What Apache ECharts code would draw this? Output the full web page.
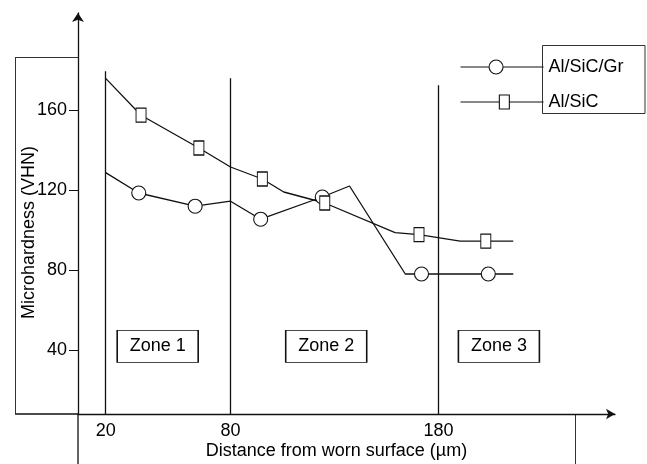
<!DOCTYPE html>
<html>
<head>
<meta charset="utf-8">
<script src="https://cdn.jsdelivr.net/npm/echarts@6/dist/echarts.min.js"></script>
<style>html,body{margin:0;padding:0;background:#fff}#c{width:647px;height:464px}</style>
</head>
<body>
<div id="c"></div>
<script>
// ---- data ----
const seriesNames = ['Al/SiC/Gr', 'Al/SiC'];

// Al/SiC/Gr: distance (µm), microhardness (VHN), measured point (marker) or line vertex
const distGr = [20, 35.9, 63.0, 80, 94.5, 124.1, 137.2, 164.0, 171.8, 203.9, 215.9];
const hardGr = [128.7, 118.5, 111.9, 114.4, 105.4, 116.5, 122.0, 78.0, 78.0, 78.0, 78.0];
const measuredGr = [false, true, true, false, true, true, false, false, true, true, false];

// Al/SiC
const distSiC = [20, 37.0, 64.8, 80, 95.3, 105.6, 125.3, 159.1, 170.6, 190.4, 202.7, 215.9];
const hardSiC = [175.8, 157.4, 141.0, 131.5, 125.5, 119.0, 113.5, 98.7, 97.7, 94.4, 94.4, 94.4];
const measuredSiC = [false, true, true, false, true, false, true, false, true, false, true, false];

// zone boundaries and labels
const zoneBounds = [20, 80, 180];
const zoneTops = [179.4, 175.9, 172.4];
const zoneLabels = ['Zone 1', 'Zone 2', 'Zone 3'];
const zoneLabelX = [45, 126, 209];
const zoneLabelY = [41.8, 41.8, 41.8];

// axis ticks
const xTicks = [20, 80, 180];
const yTicks = [40, 80, 120, 160];
const xMin = 6.7, xMax = 264.8, yMin = 8, yMax = 208.5;

// ---- chart ----
const FONT = '"Liberation Sans", Arial, Helvetica, sans-serif';
const INK = '#111';

function pts(xs, ys, flags) {
  return xs.map((x, i) => flags[i] ? [x, ys[i]] : { value: [x, ys[i]], symbol: 'none' });
}

// legend icons: line with the series marker (drawn 1:1 in an 83x14 box)
const iconGr = 'path://M0,7L28.5,7M42.5,7L83,7M28.5,7A7,7,0,1,1,42.5,7A7,7,0,1,1,28.5,7Z';
const iconSiC = 'path://M0,7L38.8,7M48.8,7L83,7M38.8,0L48.8,0L48.8,14L38.8,14Z';

const chart = echarts.init(document.getElementById('c'), null, { renderer: 'canvas' });
const lineCommon = {
  type: 'line',
  animation: false,
  silent: true,
  lineStyle: { color: INK, width: 1.3 },
  itemStyle: { color: '#fff', borderColor: INK, borderWidth: 1.1 },
  emphasis: { disabled: true },
  z: 3
};

chart.setOption({
  animation: false,
  backgroundColor: '#fff',
  textStyle: { fontFamily: FONT, color: '#000' },
  grid: { left: 78, right: 32, top: 13, bottom: 50, containLabel: false, outerBoundsMode: 'none' },
  xAxis: {
    type: 'value', min: xMin, max: xMax,
    name: 'Distance from worn surface (\u00b5m)',
    nameLocation: 'middle', nameGap: 28, nameMoveOverlap: false,
    nameTextStyle: { fontSize: 18, color: '#000', fontFamily: FONT, padding: [0, 20, 0, 0] },
    axisLine: { onZero: false, symbol: ['none', 'arrow'], symbolSize: [8, 9], lineStyle: { color: INK, width: 1.3 } },
    axisTick: { show: false },
    splitLine: { show: false },
    axisLabel: { customValues: xTicks, margin: 8, fontSize: 18, color: '#000', fontFamily: FONT }
  },
  yAxis: {
    type: 'value', min: yMin, max: yMax,
    name: 'Microhardness (VHN)',
    nameLocation: 'middle', nameGap: 40, nameMoveOverlap: false,
    nameTextStyle: { fontSize: 18, color: '#000', fontFamily: FONT, padding: [0, 38, 0, 0] },
    axisLine: { show: true, onZero: false, symbol: ['none', 'arrow'], symbolSize: [9, 9], lineStyle: { color: INK, width: 1.3 } },
    axisTick: { show: true, customValues: yTicks, length: 9, lineStyle: { color: INK, width: 1 } },
    splitLine: { show: false },
    axisLabel: { customValues: yTicks, margin: 11, fontSize: 18, color: '#000', fontFamily: FONT }
  },
  legend: {
    data: [
      { name: seriesNames[0], icon: iconGr },
      { name: seriesNames[1], icon: iconSiC }
    ],
    orient: 'vertical',
    left: 460, top: 58,
    padding: 0,
    itemWidth: 83, itemHeight: 14, itemGap: 17,
    itemStyle: { color: '#fff', borderColor: INK, borderWidth: 1.1 },
    textStyle: { fontSize: 18, color: '#000', fontFamily: FONT, lineHeight: 18 },
    selectedMode: false
  },
  series: [
    Object.assign({}, lineCommon, {
      name: seriesNames[0],
      symbol: 'circle', symbolSize: 14,
      data: pts(distGr, hardGr, measuredGr)
    }),
    Object.assign({}, lineCommon, {
      name: seriesNames[1],
      symbol: 'rect', symbolSize: [10, 14],
      data: pts(distSiC, hardSiC, measuredSiC)
    }),
    {
      name: 'zones',
      type: 'scatter',
      silent: true,
      symbol: 'rect',
      symbolSize: [81, 32],
      itemStyle: { color: '#fff', borderColor: '#111', borderWidth: 1, opacity: 1 },
      label: { show: true, position: 'inside', formatter: '{b}', fontSize: 18, color: '#000', fontFamily: FONT },
      data: zoneLabels.map((n, i) => ({ name: n, value: [zoneLabelX[i], zoneLabelY[i]] })),
      z: 2,
      markLine: {
        silent: true,
        symbol: ['none', 'none'],
        label: { show: false },
        lineStyle: { color: INK, width: 1.3, type: 'solid', opacity: 1 },
        data: zoneBounds.map((b, i) => [{ coord: [b, yMin] }, { coord: [b, zoneTops[i]] }])
      }
    }
  ],
  graphic: [
    { type: 'line', silent: true, shape: { x1: 15, y1: 414, x2: 78, y2: 414 }, style: { stroke: INK, lineWidth: 1.3 } },
    { type: 'line', silent: true, shape: { x1: 15, y1: 57.5, x2: 78, y2: 57.5 }, style: { stroke: '#333', lineWidth: 1 } },
    { type: 'line', silent: true, shape: { x1: 15.5, y1: 57.5, x2: 15.5, y2: 414 }, style: { stroke: '#333', lineWidth: 1 } },
    { type: 'line', silent: true, shape: { x1: 78, y1: 414, x2: 78, y2: 464 }, style: { stroke: INK, lineWidth: 1.3 } },
    { type: 'line', silent: true, shape: { x1: 575.5, y1: 414, x2: 575.5, y2: 464 }, style: { stroke: '#333', lineWidth: 1 } },
    { type: 'rect', silent: true, shape: { x: 542.5, y: 45.5, width: 102.5, height: 68 }, style: { fill: 'none', stroke: '#333', lineWidth: 1 } }
  ]
});
</script>
</body>
</html>
